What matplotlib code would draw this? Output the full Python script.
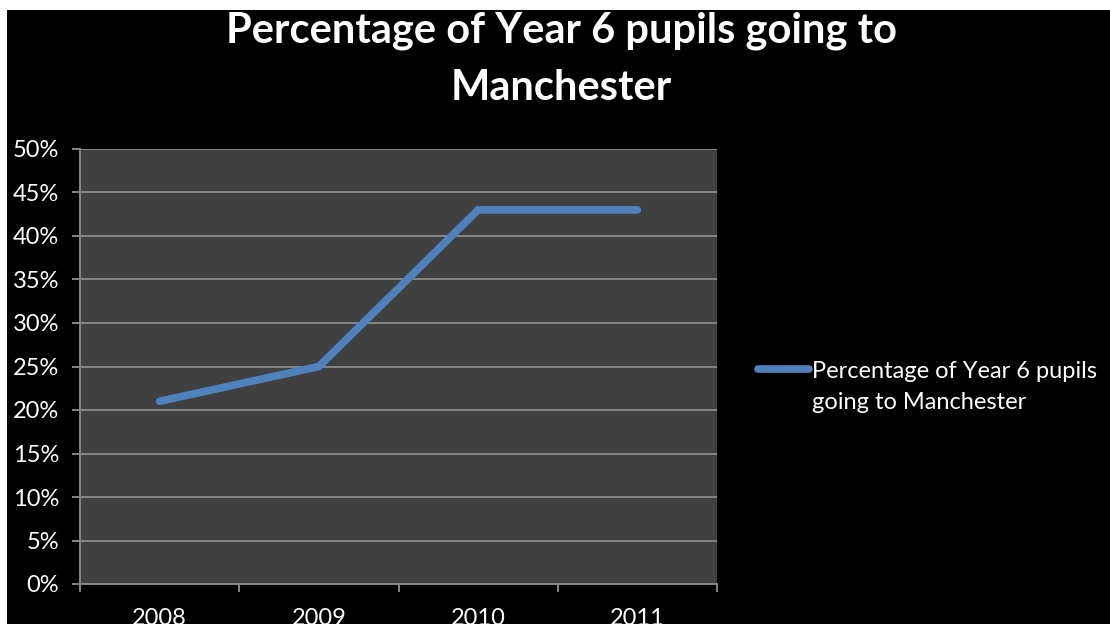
import matplotlib
matplotlib.use("Agg")
import numpy as np
import matplotlib.pyplot as plt
from matplotlib.patches import Rectangle
from matplotlib.ticker import FixedLocator, FuncFormatter
from matplotlib.legend_handler import HandlerLine2D

years = ["2008", "2009", "2010", "2011"]
values = [21, 25, 43, 43]  # percent
series_name = "Percentage of Year 6 pupils\ngoing to Manchester"
title_lines = ["Percentage of Year 6 pupils going to", "Manchester"]
yticks = list(range(0, 55, 5))

plt.rcParams['font.family'] = ['Lato', 'DejaVu Sans']

W, H = 1110, 624
fig = plt.figure(figsize=(W / 100, H / 100), dpi=100, facecolor="white")
# black chart area (white strip at top and left, as in the reference)
fig.patches.append(Rectangle((7 / W, 0), 1, 1 - 10 / H, transform=fig.transFigure,
                             facecolor="black", edgecolor="none", zorder=-5))

ax = fig.add_axes([80 / W, 40 / H, (717 - 80) / W, (584 - 149) / H])
ax.set_facecolor("#404040")

x = list(range(len(years)))
line, = ax.plot(x, values, color="#4F81BD", lw=5.5, solid_capstyle="round",
                solid_joinstyle="miter", zorder=3)

ax.set_xlim(-0.5, len(years) - 0.5)
ax.set_ylim(0, 50)

grid_c = "#868686"
ax.set_yticks(yticks)
ax.yaxis.set_major_formatter(FuncFormatter(lambda v, p: f"{int(v)}%"))
ax.grid(axis="y", color=grid_c, lw=1.4, zorder=1)
ax.set_axisbelow(True)

ax.xaxis.set_major_locator(FixedLocator([i - 0.5 for i in range(len(years) + 1)]))
ax.xaxis.set_major_formatter(FuncFormatter(lambda v, p: ""))
ax.xaxis.set_minor_locator(FixedLocator(x))
ax.set_xticklabels(years, minor=True)

for s in ["top", "right"]:
    ax.spines[s].set_visible(False)
for s in ["left", "bottom"]:
    ax.spines[s].set_color(grid_c)
    ax.spines[s].set_linewidth(1.4)

ax.tick_params(axis="y", which="major", direction="out", length=6, width=1.4,
               color=grid_c, labelcolor="white", labelsize=17, pad=9)
ax.tick_params(axis="x", which="major", direction="out", length=6, width=1.4,
               color=grid_c)
ax.tick_params(axis="x", which="minor", length=0, labelcolor="white",
               labelsize=17, pad=17)

# title (two lines, positioned by baseline)
fig.text(562 / W, 1 - 43 / H, title_lines[0], ha="center", va="baseline",
         color="white", fontsize=30, fontweight="bold")
fig.text(561 / W, 1 - 100 / H, title_lines[1], ha="center", va="baseline",
         color="white", fontsize=30, fontweight="bold")


class TopLineHandler(HandlerLine2D):
    def __init__(self, dy, **kw):
        super().__init__(**kw)
        self.dy = dy

    def create_artists(self, legend, orig_handle, xdescent, ydescent, width,
                       height, fontsize, trans):
        arts = super().create_artists(legend, orig_handle, xdescent, ydescent,
                                      width, height, fontsize, trans)
        for a in arts:
            a.set_ydata(np.asarray(a.get_ydata(), dtype=float) + self.dy)
        return arts


leg = fig.legend([line], [series_name], loc="upper left",
                 bbox_to_anchor=(749 / W, 1 - 352 / H), frameon=False,
                 labelcolor="white", fontsize=17, handlelength=2.15,
                 handletextpad=0.12, borderaxespad=0,
                 handler_map={line: TopLineHandler(13)})
for t in leg.get_texts():
    t.set_linespacing(1.55)
for h in leg.legend_handles:
    h.set_linewidth(5.5)

fig.savefig("out.png", dpi=100, facecolor=fig.get_facecolor())
